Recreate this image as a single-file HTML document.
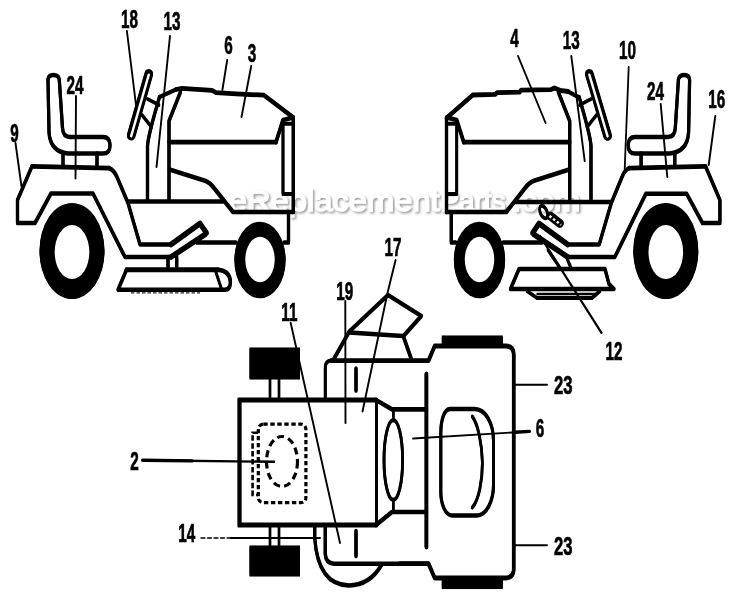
<!DOCTYPE html>
<html><head><meta charset="utf-8">
<style>
html,body{margin:0;padding:0;background:#fff;}
svg{display:block;}
text{font-family:"Liberation Sans",sans-serif;}
</style></head><body>
<svg width="750" height="600" viewBox="0 0 750 600">
<rect width="750" height="600" fill="#fff"/>
<defs>
<g id="body" fill="none" stroke="#000" stroke-width="3.2" stroke-linejoin="round" stroke-linecap="round">
  <!-- rear wheel -->
  <ellipse cx="72" cy="251" rx="32.5" ry="47.4" fill="#000" stroke="none"/>
  <ellipse cx="72" cy="251.4" rx="17.3" ry="27" fill="#fff" stroke="none"/>
  <!-- front wheel -->
  <ellipse cx="260" cy="260" rx="25.6" ry="37.7" fill="#000" stroke="none"/>
  <ellipse cx="260" cy="258.9" rx="14.7" ry="22.7" fill="#fff" stroke="none"/>
  <!-- seat -->
  <path d="M48,80 Q48,75 53.5,75 Q59,75 59.3,80 L62.5,128 Q63,137 70,137 L103,137 Q110,137 110,145.3 Q110,153.6 103,153.6 L68,153.6 Q50,151.5 49,132 Z"/>
  <path d="M63,153.6 V166 M97,153.6 V166"/>
  <!-- fender -->
  <path d="M109,168.2 L32,166.3" stroke-width="3.4"/>
  <path d="M32,166.3 L17.5,200 V223 H35 L51,193.5 H93 L125,257 H171 L205,234.5"/>
  <path d="M109,168 Q114,170 117,177 L128,203 L140,244.5 H171 L200,223.5 L206.5,233"/>
  <!-- frame -->
  <path d="M128,201.5 H223" stroke-width="3.3"/>
  <path d="M171,244.5 L200,223.5 L206.5,233 M171,257 L205,234.5" stroke-width="4.4"/>
  <path d="M197,242.5 H236"/>
  <path d="M288.5,212 V242.5 H284"/>
  <!-- column -->
  <path d="M147.5,200 V146 Q148,136 159.5,97"/>
  <path d="M169,200 V121 L180.5,92"/>
  <!-- hood -->
  <path d="M176,89.5 L182,88.3 L212,90.3 L216,92.6 L236,93.8 L264,95.2 L293.3,117.5" stroke-width="3.5"/>
  <path d="M159.5,97 L176,89.5 M293.3,117.5 V212" stroke-width="3.2"/>
  <path d="M293.3,212 H233 L214,188 Q210,182.5 205,180.7 L169.5,169.5" stroke-width="3.4"/>
  <path d="M169,142.2 H276" stroke-width="3.4"/>
  <path d="M276,142.2 L283,120 L293,117.5" stroke-width="3.4"/>
  <path d="M283,121 V194 H293 M283,123.8 H293" stroke-width="2.8"/>
  <!-- steering wheel -->
  <path d="M148.8,74 L131.2,135.5" stroke-width="8.6"/>
  <path d="M148.8,74 L131.2,135.5" stroke="#fff" stroke-width="2.4"/>
  <path d="M147.5,99 L159,105 M142,115 L151.5,127" stroke-width="2.6"/>
</g>
<g id="bodyR" fill="none" stroke="#000" stroke-width="3.2" stroke-linejoin="round" stroke-linecap="round">
  <!-- rear wheel -->
  <ellipse cx="665.8" cy="251" rx="32.5" ry="47.4" fill="#000" stroke="none"/>
  <ellipse cx="665.8" cy="251.4" rx="17.3" ry="27" fill="#fff" stroke="none"/>
  <!-- front wheel -->
  <ellipse cx="479.5" cy="260" rx="25.6" ry="37.7" fill="#000" stroke="none"/>
  <ellipse cx="479.5" cy="258.9" rx="14.7" ry="22.7" fill="#fff" stroke="none"/>
  <!-- seat -->
  <path d="M689.6,80 Q689.6,75 684.2,75 Q678.7,75 678.4,80 L675.3,128 Q674.8,137 667.8,137 L635.1,137 Q628.2,137 628.2,145.3 Q628.2,153.6 635.1,153.6 L669.8,153.6 Q687.7,151.5 688.6,132 Z"/>
  <path d="M674.8,153.6 V166 M641.1,153.6 V166"/>
  <!-- fender -->
  <path d="M629.2,168.2 L705.5,166.3" stroke-width="3.4"/>
  <path d="M705.5,166.3 L719.9,200 V223 H702.5 L686.7,193.8 H645.8 L614.8,257 H567.7 L534.0,234.5"/>
  <path d="M629.2,168 Q624.6,170 622,177 L611.3,203 L599.2,244.5 H567.7 L539.0,223.5 L532.6,233"/>
  <!-- frame -->
  <path d="M611,202 H516.2" stroke-width="3.3"/>
  <path d="M567.7,244.5 L539,223.5 L532.6,233 M567.7,257 L534,234.5" stroke-width="4.4"/>
  <path d="M542.0,242.5 H503.3"/>
  <path d="M451.3,212 V242.5 H455.8"/>
  <!-- column -->
  <path d="M591.0,200 V146 Q590.5,136 579.1,97"/>
  <path d="M569.7,200 V121 L558.3,92"/>
  <!-- hood -->
  <path d="M568,91.5 L560,90.3 L554.5,88 L551,89.6 L521,90.2 L519.5,92.2 L497,92.6 L495.5,94.3 L472.8,95 L446.5,118" stroke-width="3.5"/>
  <path d="M579.1,97.5 L568,91.5 M446.5,118 V212" stroke-width="3.2"/>
  <path d="M446.5,212 H506.3 L525.1,188 Q529.1,182.5 534.0,180.7 L569.2,169.5" stroke-width="3.4"/>
  <path d="M569.7,142.2 H463.7" stroke-width="3.4"/>
  <path d="M463.7,142.2 L456.7,120 L446.8,117.5" stroke-width="3.4"/>
  <path d="M456.7,121 V194 H446.8 M456.7,123.8 H446.8" stroke-width="2.8"/>
  <!-- steering wheel -->
  <path d="M589.3,74 L607.6,135.8" stroke-width="8.6"/>
  <path d="M589.3,74 L607.6,135.8" stroke="#fff" stroke-width="2.4"/>
  <path d="M591.0,99 L579.6,105 M596.5,115 L587.1,127" stroke-width="2.6"/>
</g>
</defs>

<!-- watermark -->
<filter id="ws" x="-5%" y="-30%" width="110%" height="170%"><feDropShadow dx="1.6" dy="1.6" stdDeviation="1.1" flood-color="#666" flood-opacity="0.65"/></filter>
<g font-size="29.5" style="opacity:0.999" fill="#fff" stroke="#fff" stroke-width="1.3" filter="url(#ws)">
<text x="228.7" y="210.8" textLength="211" lengthAdjust="spacingAndGlyphs">eReplacement</text>
<text x="440.5" y="210.8" textLength="65" lengthAdjust="spacingAndGlyphs">Parts</text>
<text x="512.5" y="210.8" textLength="68" lengthAdjust="spacingAndGlyphs">.com</text>
</g>

<g id="art" transform="translate(0,-0.65)">
<!-- LEFT tractor -->
<use href="#body"/>
<g fill="none" stroke="#000" stroke-width="3" stroke-linejoin="round" stroke-linecap="round">
  <path d="M168,257 V267.5 M176.7,257 V267.5" stroke-width="3.2"/>
  <path d="M126.5,269.8 H218" stroke-width="3.8"/>
  <path d="M126.5,269.8 L118,289.8 H225 Q230.3,289.5 230.5,282 Q230,271 218,269.8" stroke-width="3.2"/>
  <path d="M215.7,271.5 L221.5,289" stroke-width="2.6"/>
  <path d="M131,292.3 H200" stroke-width="1" stroke-dasharray="3.5 2" stroke-linecap="butt"/>
</g>

<!-- RIGHT tractor -->
<use href="#bodyR"/>
<g fill="none" stroke="#000" stroke-width="3" stroke-linejoin="round" stroke-linecap="round">
  <!-- lever 12 -->
  <ellipse cx="543.6" cy="212" rx="3.4" ry="6.6" transform="rotate(-22 543.6 212)" stroke-width="2.6"/>
  <path d="M550.5,216.2 L559.8,223.3" stroke-width="7.6"/>
  <path d="M549.5,215.4 L561,224.2" stroke="#fff" stroke-width="2.4" stroke-dasharray="2.4 2.2" stroke-linecap="butt"/>
  <!-- deck links -->
  <path d="M548,250 L560,268 M566,256 L571,268" stroke-width="2.6"/>
  <!-- deck -->
  <path d="M519,269 H605 L609,284 L614,289 H510.5 Z" stroke-width="3.2"/>
  <path d="M527,291 L537,298 H592 L600,291" stroke-width="2.6"/>
  <path d="M537,294 H596" stroke-width="1.4"/>
</g>

<!-- TOP VIEW -->
<g fill="none" stroke="#000" stroke-width="3" stroke-linejoin="round" stroke-linecap="round">
  <!-- rear wheels -->
  <rect x="249.5" y="348.1" width="50.5" height="30.8" fill="#000" stroke="none"/>
  <rect x="249.5" y="546.1" width="50.5" height="29.8" fill="#000" stroke="none"/>
  <path d="M270,379 V399 M279,379 V399 M270,526 V546 M279,526 V546" stroke-width="2.4"/>
  <!-- front wheels -->
  <rect x="441.8" y="336.1" width="61" height="10.4" fill="#000" stroke="none"/>
  <rect x="441.8" y="577.5" width="61" height="10.9" fill="#000" stroke="none"/>
  <!-- rear body -->
  <path d="M376,400 H239.5 V525 H376" stroke-width="3.8" stroke-linejoin="miter"/>
  <path d="M376.5,400 V525"/>
  <path d="M376,400 L392,409.3 H426.5 M376,525 L392,512 H426.5" stroke-width="3.4"/>
  <path d="M393.3,409.3 V420.5 M393.3,499.5 V512" stroke-width="2.6"/>
  <ellipse cx="393.3" cy="460" rx="9.3" ry="40" stroke-width="2.8"/>
  <path d="M426.4,374 V547" stroke-width="3.6"/>
  <!-- front body -->
  <path d="M325.3,398 V367 Q325.5,361 331,360.5" stroke-width="2.9"/>
  <path d="M331,360.6 H428.5 L434.7,346 H506 Q513.4,346.5 513.7,354 V570 Q513.4,577.5 506,578 H434.7 L428.5,563.6 H400" stroke-width="3.5"/>
  <path d="M428.5,563.8 H334 Q325.5,563 325.3,554 V527" stroke-width="3.3"/>
  <path d="M314.7,527 V538 Q318,585 349,585.5 Q370,585 381.5,565" stroke-width="3.2"/>
  <!-- ticks -->
  <path d="M356,368.5 V390.5 M356,531 V556" stroke-width="3.3"/>
  <!-- chute 17 -->
  <path d="M333.3,360 L349.3,331.5 L388,295 L421.3,316 L403.3,336.3 L411.3,359" stroke-width="3.3"/>
  <path d="M349.3,332.5 L402.5,336" stroke-width="3.2"/>
  <!-- seat top view -->
  <path d="M450,409 H474.5 C486,409 493.5,424 493.5,441 V485 C493.5,500 487,515.5 476.8,515.5 H452 C445,515.5 440.8,503 440.8,492 V433 C440.8,421 444,409 450,409 Z" stroke-width="3"/>
  <path d="M472.3,416.5 C478,424 482,444 482.4,462.6 C482.4,480 479,500 472.3,507.5" stroke-width="2.7"/>
</g>

</g>
<use href="#art" transform="translate(0,1.3)"/>

<!-- dashed decals -->
<g fill="none" stroke="#000" stroke-linecap="butt">
  <rect x="258.3" y="424.2" width="47.6" height="78.5" rx="5" stroke-width="3.2" stroke-dasharray="4.4 2.6"/>
  <path d="M258,432.8 H252.6 V495 H258" stroke-width="2.6" stroke-dasharray="5.5 2.4"/>
  <ellipse cx="282" cy="461.5" rx="15.5" ry="25" stroke-width="3.2" stroke-dasharray="7 4.4"/>
</g>

<!-- leaders -->
<g fill="none" stroke="#000" stroke-width="1.9" stroke-linecap="round">
  <path d="M126.9,31 L136,105"/>
  <path d="M170,36 L156.5,167"/>
  <path d="M76,96 L75.5,178.5"/>
  <path d="M15.5,143 L21.5,186.5"/>
  <path d="M227.2,60 L222.4,90"/>
  <path d="M251.2,66 L241.5,117"/>
  <path d="M571.3,56 L584.7,161"/>
  <path d="M628.7,67 L624.7,169" stroke-width="1.8"/>
  <path d="M660.7,104 L667.3,177"/>
  <path d="M715.3,116 L708.7,165"/>
  <path d="M540,236 L601.5,332.8" stroke-width="2.2"/>
  <path d="M518,56 L545.6,123"/>
  <path d="M395.6,260 L387.5,293 L362.5,411.5"/>
  <path d="M345.3,301 L345.5,423"/>
  <path d="M290.7,323 L340,543"/>
  <path d="M142.7,460.3 L274,461.8" stroke-width="2.4"/>
  <path d="M142.7,460.3 L192,460.9" stroke-width="3.4"/>
  <path d="M201,538 H231" stroke-width="1.3" stroke-dasharray="4 2.5"/>
  <path d="M231,538 H320"/>
  <path d="M413,438.5 L529,431.5" stroke-width="1.8"/>
  <path d="M515,432.3 L529.5,431.4" stroke-width="3.4"/>
  <path d="M515,384.7 H547 M515,545.3 H547"/>
</g>

<!-- labels -->
<g font-size="25" font-weight="bold" fill="#000" stroke="#000" stroke-width="0.7" text-anchor="middle" style="opacity:0.999">
  <text transform="translate(129.5,27.6) scale(0.61,1)">18</text>
  <text transform="translate(172,30) scale(0.61,1)">13</text>
  <text transform="translate(75,93.5) scale(0.61,1)">24</text>
  <text transform="translate(14.5,142) scale(0.61,1)">9</text>
  <text transform="translate(228.6,54.2) scale(0.61,1)">6</text>
  <text transform="translate(252,62) scale(0.61,1)">3</text>
  <text transform="translate(514.4,47) scale(0.61,1)">4</text>
  <text transform="translate(571.3,49.3) scale(0.61,1)">13</text>
  <text transform="translate(627.5,58.7) scale(0.61,1)">10</text>
  <text transform="translate(655.5,100) scale(0.61,1)">24</text>
  <text transform="translate(716.7,107.5) scale(0.61,1)">16</text>
  <text transform="translate(614,360.4) scale(0.61,1)">12</text>
  <text transform="translate(393,256) scale(0.61,1)">17</text>
  <text transform="translate(344.7,300) scale(0.61,1)">19</text>
  <text transform="translate(289.3,320.7) scale(0.61,1)">11</text>
  <text transform="translate(134.5,469.6) scale(0.61,1)">2</text>
  <text transform="translate(186.8,542) scale(0.61,1)">14</text>
  <text transform="translate(540,437.2) scale(0.61,1)">6</text>
  <text transform="translate(563.3,394) scale(0.64,1)" font-size="26">23</text>
  <text transform="translate(563.3,555) scale(0.64,1)" font-size="26">23</text>
</g>

</svg>
</body></html>
